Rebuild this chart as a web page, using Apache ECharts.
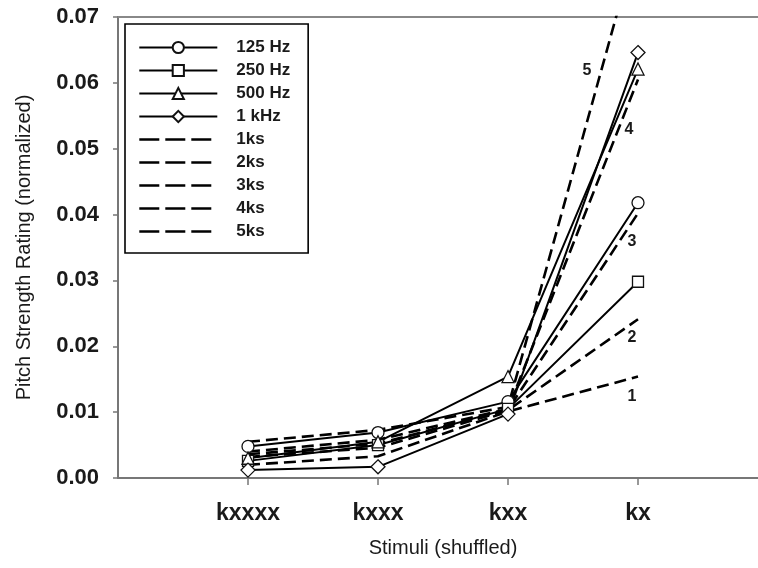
<!DOCTYPE html>
<html>
<head>
<meta charset="utf-8">
<script src="https://cdn.jsdelivr.net/npm/echarts@6/dist/echarts.min.js"></script>
<style>
html,body{margin:0;padding:0;background:#fff;}
#c{width:758px;height:568px;}
</style>
</head>
<body>
<div id="c"></div>
<script>
// categories (x positions are their indices)
const categories = ['kxxxx', 'kxxx', 'kxx', 'kx'];
// solid series (pure tones)
const hz125 = [0.0048, 0.0069, 0.0116, 0.0418];
const hz250 = [0.0026, 0.0050, 0.0105, 0.0298];
const hz500 = [0.0030, 0.0055, 0.0154, 0.0621];
const khz1  = [0.0012, 0.0017, 0.0097, 0.0646];
// dashed series
const ks1 = [0.0020, 0.0033, 0.0101, 0.0154];
const ks2 = [0.0032, 0.0046, 0.0103, 0.0241];
const ks3 = [0.0036, 0.0052, 0.0104, 0.0402];
const ks4 = [0.0040, 0.0058, 0.0105, 0.0605];
const ks5 = [0.0055, 0.0073, 0.0108, 0.0820];
// y-axis tick values
const yTicks = [0.00, 0.01, 0.02, 0.03, 0.04, 0.05, 0.06, 0.07];

const FONT = '"Liberation Sans", Arial, sans-serif';

function pts(arr) { return arr.map((v, i) => [i, v]); }

function dashed(name, arr, tag, labelIdx, offset) {
  const data = pts(arr).map((p, i) => {
    if (i === labelIdx) {
      return { value: p, label: { show: true, formatter: tag, position: 'inside', offset: offset,
        fontFamily: FONT, fontSize: 16, fontWeight: 'bold', color: '#1a1a1a' } };
    }
    return { value: p };
  });
  return {
    name: name, type: 'line', data: data,
    symbol: 'circle', symbolSize: 0.1, showSymbol: true,
    itemStyle: { color: 'rgba(0,0,0,0)' },
    lineStyle: { color: '#000', width: 2.6, type: [12, 6] },
    z: 2, silent: true
  };
}
function solid(name, arr, sym, size) {
  return {
    name: name, type: 'line', data: pts(arr),
    symbol: sym, symbolSize: size,
    itemStyle: { color: '#fff', borderColor: '#111', borderWidth: 1.3 },
    lineStyle: { color: '#000', width: 2 },
    z: 3, silent: true
  };
}

const chart = echarts.init(document.getElementById('c'), null, { renderer: 'canvas' });
const dashLegend = { lineStyle: { type: [20, 6], width: 2.6 } };
chart.setOption({
  animation: false,
  backgroundColor: '#fff',
  grid: { left: 118, top: 17, width: 650, height: 461, containLabel: false, outerBoundsMode: 'none' },
  legend: {
    orient: 'vertical', left: 125, top: 24,
    padding: [15, 18, 13, 13],
    borderColor: '#000', borderWidth: 1.6,
    itemWidth: 78, itemHeight: 14, itemGap: 6,
    textStyle: { fontFamily: FONT, fontSize: 17, fontWeight: 'bold', color: '#1a1a1a', lineHeight: 16, padding: [0, 0, 0, 14] },
    selectedMode: false,
    data: [
      { name: '125 Hz' }, { name: '250 Hz' }, { name: '500 Hz' }, { name: '1 kHz' },
      Object.assign({ name: '1ks' }, dashLegend),
      Object.assign({ name: '2ks' }, dashLegend),
      Object.assign({ name: '3ks' }, dashLegend),
      Object.assign({ name: '4ks' }, dashLegend),
      Object.assign({ name: '5ks' }, dashLegend)
    ]
  },
  xAxis: [{
    type: 'value', min: -1, max: 4, interval: 1,
    name: 'Stimuli (shuffled)', nameLocation: 'middle', nameGap: 60,
    nameTextStyle: { fontFamily: FONT, fontSize: 20, color: '#1a1a1a' },
    axisLine: { show: true, onZero: false, lineStyle: { color: '#777', width: 2 } },
    axisTick: { show: true, inside: false, length: 7, lineStyle: { color: '#777', width: 1.5 },
      customValues: [0, 1, 2, 3] },
    axisLabel: { margin: 24, fontFamily: FONT, fontSize: 23, fontWeight: 'bold', color: '#1a1a1a',
      formatter: v => (v >= 0 && v < categories.length) ? categories[v] : '' },
    splitLine: { show: false }
  }, {
    type: 'value', position: 'top', min: -1, max: 4,
    axisLine: { show: true, onZero: false, lineStyle: { color: '#888', width: 2 } },
    axisTick: { show: false }, axisLabel: { show: false }, splitLine: { show: false }
  }],
  yAxis: {
    type: 'value', min: yTicks[0], max: yTicks[yTicks.length - 1], interval: 0.01,
    name: 'Pitch Strength Rating (normalized)', nameLocation: 'middle', nameGap: 84,
    nameTextStyle: { fontFamily: FONT, fontSize: 20, color: '#1a1a1a' },
    axisLine: { show: true, onZero: false, lineStyle: { color: '#777', width: 2 } },
    axisTick: { show: true, inside: false, length: 5, lineStyle: { color: '#777', width: 1.5 } },
    axisLabel: { margin: 19, fontFamily: FONT, fontSize: 22, fontWeight: 'bold', color: '#1a1a1a',
      formatter: v => v.toFixed(2) },
    splitLine: { show: false }
  },
  series: [
    dashed('1ks', ks1, '1', 3, [-6, 20]),
    dashed('2ks', ks2, '2', 3, [-6, 18]),
    dashed('3ks', ks3, '3', 3, [-6, 28]),
    dashed('4ks', ks4, '4', 3, [-9, 50]),
    dashed('5ks', ks5, '5', 2, [79, -336]),
    solid('125 Hz', hz125, 'circle', 12),
    solid('250 Hz', hz250, 'rect', 11),
    solid('500 Hz', hz500, 'triangle', 12),
    solid('1 kHz', khz1, 'diamond', 14)
  ]
});
</script>
</body>
</html>
